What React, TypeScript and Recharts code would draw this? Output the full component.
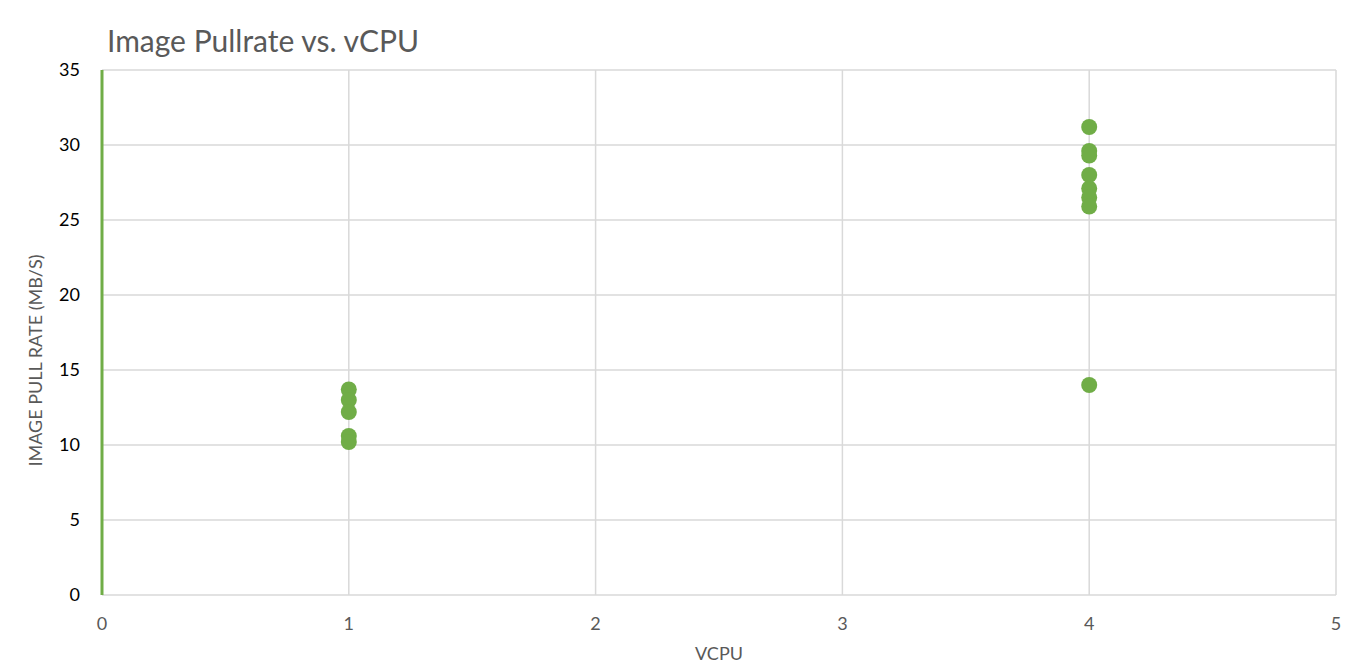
import React from 'react';
import {
  ScatterChart,
  Scatter,
  XAxis,
  YAxis,
  CartesianGrid,
  Label
} from 'recharts';

// values
const oneCpuRates = [13.7, 13.0, 12.2, 10.6, 10.2];
const fourCpuRates = [31.2, 29.6, 29.3, 28.0, 27.1, 26.5, 25.9, 14.0];
const xTicks = [0, 1, 2, 3, 4, 5];
const yTicks = [0, 5, 10, 15, 20, 25, 30, 35];

const points = [
  ...oneCpuRates.map(r => ({ vcpu: 1, rate: r })),
  ...fourCpuRates.map(r => ({ vcpu: 4, rate: r })),
];

const FONT = 'Lato, "Open Sans", sans-serif';
const GREEN = '#70ad47';

const App: React.FC = () => {
  return (
    <div style={{ position: 'absolute', left: 0, top: 0, width: 1364, height: 668, background: '#fff', fontFamily: FONT }}>
      <div style={{ position: 'absolute', left: 107, top: 22, fontSize: 30, color: '#595959', fontFamily: FONT }}>
        Image Pullrate vs. vCPU
      </div>
      <ScatterChart width={1364} height={668} margin={{ top: 70, right: 28, bottom: 0, left: 42 }}>
        <CartesianGrid stroke="#d9d9d9" strokeWidth={1.5} />
        <XAxis
          type="number"
          dataKey="vcpu"
          domain={[0, 5]}
          ticks={xTicks}
          axisLine={false}
          tickLine={false}
          tickSize={0}
          tickMargin={22}
          height={73}
          tick={{ fill: '#595959', fontSize: 18, fontFamily: FONT }}
        >
          <Label value="VCPU" position="insideBottom" offset={8} fill="#595959" fontSize={18} fontFamily={FONT} />
        </XAxis>
        <YAxis
          type="number"
          dataKey="rate"
          domain={[0, 35]}
          ticks={yTicks}
          width={60}
          axisLine={{ stroke: GREEN, strokeWidth: 3 }}
          tickLine={false}
          tickSize={0}
          tickMargin={22}
          tick={{ fill: '#000', fontSize: 18, fontFamily: FONT }}
        >
          <Label
            value="IMAGE PULL RATE (MB/S)"
            angle={-90}
            position="center"
            dx={-36}
            dy={28}
            fill="#595959"
            fontSize={18}
            fontFamily={FONT}
          />
        </YAxis>
        <Scatter data={points} fill={GREEN} isAnimationActive={false}
          shape={(p: any) => <circle cx={p.cx} cy={p.cy} r={8} fill={GREEN} />} />
      </ScatterChart>
    </div>
  );
};

export default App;
